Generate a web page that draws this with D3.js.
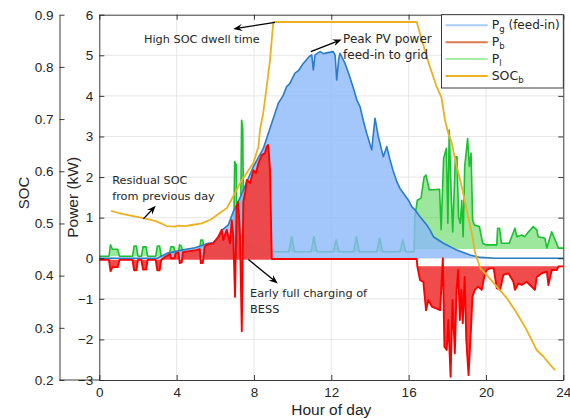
<!DOCTYPE html>
<html lang="en">
<head>
<meta charset="utf-8">
<title>BESS daily power and SOC</title>
<style>
 body { margin: 0; background: #fff; }
 svg text { fill: #262626; }
 .tick text { font-family: "Liberation Sans", Arial, Helvetica, sans-serif; font-size: 13.5px; }
 .axis path, .axis line { stroke: #262626; stroke-width: 0.9; }
 .note { font-family: "DejaVu Sans", sans-serif; }
 .legend text { font-family: "DejaVu Sans", sans-serif; }
</style>
<script src="https://d3js.org/d3.v7.min.js"></script>
</head>
<body>
<svg id="chart" width="570" height="419"></svg>
<script>

// ---- data: [hour of day, value] ----
// grid feed-in power Pg (kW)
const pg = [[0,0],[3.0,0],[3.49,0.12],[4.26,0.2],[4.95,0.26],[5.64,0.37],[5.9,0.38],[6.16,0.53],[6.41,0.72],
  [6.67,0.82],[6.93,1.15],[7.1,1.3],[7.45,1.68],[7.97,2.26],[8.48,2.7],[8.83,3.2],[9.26,3.82],[9.5,4.0],
  [9.69,4.23],[9.85,4.3],[10.12,4.56],[10.3,4.62],[10.55,4.8],[10.86,4.97],[10.99,5.01],[11.07,4.64],
  [11.16,5.01],[11.42,5.09],[11.6,5.04],[11.76,5.06],[12.1,5.09],[12.2,5.0],[12.28,4.39],[12.38,4.9],
  [12.45,5.05],[12.71,4.8],[12.9,4.55],[13.06,4.31],[13.2,4.1],[13.32,3.9],[13.49,3.73],[13.65,3.4],
  [13.83,3.08],[14.09,2.67],[14.26,3.45],[14.43,3.0],[14.69,2.5],[14.87,2.75],[15.04,2.42],[15.2,2.15],
  [15.38,1.9],[15.55,1.72],[15.73,1.6],[15.99,1.43],[16.16,1.27],[16.33,1.19],[16.59,1.02],[16.94,0.82],
  [17.1,0.7],[17.28,0.53],[17.8,0.37],[18.49,0.2],[19.18,0.08],[19.7,0.02],[20.5,0],[24,0]];

// battery power Pb (kW), positive = charging
const pb = [[0,-0.04],[0.5,-0.04],[0.58,-0.32],[0.68,-0.22],[0.95,-0.22],[1.05,-0.04],
  [1.72,-0.04],[1.8,-0.3],[1.92,-0.3],[2.0,-0.04],[2.18,-0.04],[2.26,-0.28],[2.42,-0.28],[2.5,-0.04],
  [2.92,-0.04],[3.0,-0.3],[3.12,-0.3],[3.2,-0.04],[3.5,0.06],[3.66,0.1],[3.72,0.0],[3.88,0.0],
  [3.95,0.12],[4.1,0.14],[4.16,-0.12],[4.26,-0.1],[4.33,0.15],[5.0,0.2],[5.2,0.22],[5.25,-0.12],
  [5.35,-0.12],[5.45,0.28],[5.55,0.33],[5.9,0.37],[6.16,0.53],[6.33,0.7],[6.41,0.45],[6.59,0.7],
  [6.76,0.37],[6.85,0.94],[6.93,0.53],[7.02,-0.95],[7.1,1.27],[7.19,1.39],[7.28,0.53],[7.37,-1.8],
  [7.45,1.39],[7.54,1.6],[7.63,1.93],[7.8,1.85],[7.97,2.17],[8.1,2.1],[8.23,2.34],[8.4,2.54],
  [8.57,2.59],[8.66,2.75],[8.74,2.79],[8.83,2.17],[8.92,-0.02],[16.42,-0.02],[16.45,-0.2],
  [16.59,-0.54],[16.76,-0.58],[16.9,-1.28],[17.02,-1.03],[17.2,-1.19],[17.63,-1.28],[17.77,0],
  [17.85,-2.18],[17.97,-2.26],[18.05,-1.52],[18.17,-2.92],[18.27,-1.03],[18.39,-2.34],[18.48,-0.78],
  [18.56,-0.29],[18.65,-1.52],[18.73,-0.78],[18.8,-1.6],[18.9,-0.46],[18.98,-2.0],[19.1,-2.88],
  [19.24,-1.6],[19.3,-0.95],[19.42,-0.78],[19.6,-0.7],[19.78,-0.78],[19.95,-0.37],[20.04,-0.29],
  [20.2,-0.25],[20.4,-0.25],[20.56,-0.74],[20.73,-0.78],[20.9,-0.41],[21.16,-0.37],[21.42,-0.58],
  [21.5,-0.78],[21.68,-0.62],[21.85,-0.66],[22.1,-0.58],[22.36,-0.7],[22.53,-0.78],[22.63,-0.46],
  [22.88,-0.37],[23.15,-0.33],[23.23,-0.66],[23.4,-0.29],[23.66,-0.29],[23.75,-0.2],[24,-0.2]];

// load power Pl (kW)
const pl = [[0,0.05],[0.5,0.05],[0.58,0.33],[0.68,0.22],[0.95,0.22],[1.05,0.05],
  [1.72,0.05],[1.8,0.3],[1.92,0.3],[2.0,0.05],[2.18,0.05],[2.26,0.28],[2.42,0.28],[2.5,0.05],
  [2.92,0.05],[3.0,0.3],[3.12,0.3],[3.2,0.05],[3.62,0.08],[3.7,0.28],[3.85,0.28],[3.93,0.1],
  [4.08,0.1],[4.15,0.33],[4.25,0.3],[4.32,0.12],[5.18,0.15],[5.25,0.45],[5.35,0.45],[5.42,0.2],
  [6.3,0.25],[6.95,0.3],[7.0,2.38],[7.08,2.3],[7.12,0.6],[7.3,0.5],[7.36,3.4],[7.42,3.2],[7.47,0.6],
  [8.0,0.3],[8.8,0.2],[9.0,0.16],[9.8,0.16],[9.95,0.53],[10.1,0.16],[10.95,0.16],[11.1,0.53],
  [11.25,0.16],[12.1,0.16],[12.25,0.45],[12.4,0.16],[13.15,0.16],[13.3,0.53],[13.45,0.16],
  [14.35,0.16],[14.5,0.5],[14.65,0.16],[15.55,0.16],[15.7,0.45],[15.85,0.16],[16.28,0.16],
  [16.32,1.02],[16.45,1.43],[16.64,1.48],[16.8,2.0],[16.9,2.05],[17.07,1.68],[17.6,1.7],[17.68,0.7],
  [17.81,2.46],[17.95,2.71],[18.03,0.86],[18.1,3.16],[18.2,1.6],[18.28,0.65],[18.42,2.5],[18.5,2.5],
  [18.58,1.02],[18.67,0.86],[18.75,1.43],[18.82,0.53],[18.9,2.26],[19.05,2.95],[19.14,2.26],
  [19.23,2.59],[19.31,0.94],[19.4,0.82],[19.66,0.78],[19.83,0.37],[20.0,0.33],[20.56,0.33],
  [20.6,0.74],[20.7,0.74],[20.8,0.37],[21.2,0.37],[21.5,0.74],[21.6,0.53],[21.85,0.57],[22.0,0.53],
  [22.2,0.65],[22.45,0.78],[22.63,0.7],[22.7,0.53],[23.05,0.49],[23.15,0.25],[23.4,0.65],
  [23.58,0.45],[23.75,0.25],[24,0.25]];

// battery state of charge
const soc = [[0.61,0.524],[1.0,0.52],[1.5,0.516],[2.28,0.51],[2.88,0.505],[3.2,0.5],[3.49,0.495],
  [3.92,0.494],[4.1,0.496],[4.43,0.495],[4.78,0.497],[5.3,0.5],[5.73,0.507],[5.9,0.511],[6.33,0.523],
  [6.59,0.529],[6.93,0.552],[7.28,0.577],[7.63,0.597],[7.97,0.616],[8.23,0.647],[8.31,0.679],
  [8.48,0.712],[8.65,0.76],[8.83,0.813],[9.0,0.886],[16.42,0.886],[16.59,0.863],[17.1,0.8],
  [17.45,0.762],[17.7,0.741],[17.88,0.698],[18.05,0.673],[18.23,0.654],[18.49,0.609],[18.75,0.57],
  [19.0,0.526],[19.27,0.481],[19.44,0.443],[19.7,0.415],[20.04,0.401],[20.56,0.379],[21.08,0.357],
  [21.6,0.328],[22.1,0.296],[22.63,0.257],[22.97,0.245],[23.32,0.229],[23.58,0.219]];

// idle level each fill is drawn from: [from hour, kW]
const pgBase = [[0,0]];
const pbBase = [[0,-0.04],[8.9,-0.02],[16.43,-0.2]];
const plBase = [[0,0.05],[9,0.16],[16.3,0.23]];

// ticks
const hourTicks = [0,4,8,12,16,20,24];
const powerTicks = [-3,-2,-1,0,1,2,3,4,5,6];
const socTicks = [0.2,0.3,0.4,0.5,0.6,0.7,0.8,0.9];

// annotations, placed in (hour, kW)
const notes = [
  {lines:['High SOC dwell time'], at:[2.31,5.30], size:11.3, from:[9.09,5.81], to:[6.93,5.65]},
  {lines:['Peak PV power','feed-in to grid'], at:[12.61,5.30], size:12, from:[10.94,5.09], to:[12.54,5.39]},
  {lines:['Residual SOC','from previous day'], at:[0.67,1.83], size:11.3, from:[2.28,0.97], to:[2.92,1.29]},
  {lines:['Early full charging of','BESS'], at:[7.8,-0.96], size:11.3, from:[7.71,-0.03], to:[9.23,-0.62]}
];

// legend entries
const legendItems = [
  {main:'P', sub:'g', rest:' (feed-in)', color:'#a8ccf4'},
  {main:'P', sub:'b', rest:'', color:'#dc7a52'},
  {main:'P', sub:'l', rest:'', color:'#a6eba6'},
  {main:'SOC', sub:'b', rest:'', color:'#edb120'}
];

//Display specs
const plotL = 99.3, plotR = 563.3, plotT = 14.7, plotB = 380, socX = 59.5;
const svg = d3.select('#chart');

const x = d3.scaleLinear().domain([0,24]).range([plotL,plotR]);
const yP = d3.scaleLinear().domain([-3,6]).range([plotB,plotT]);
const yS = d3.scaleLinear().domain([0.2,0.9]).range([plotB,plotT]);

function stepAt(steps, h) {
  let v = steps[0][1];
  steps.forEach(s => { if (h >= s[0]) v = s[1]; });
  return v;
}

//Grid
const grid = svg.append('g').attr('stroke', '#e4e4e4').attr('stroke-width', 0.9);
grid.selectAll('.gx').data(hourTicks.slice(1,-1)).enter().append('line')
  .attr('x1', d => x(d)).attr('x2', d => x(d)).attr('y1', plotT).attr('y2', plotB);
grid.selectAll('.gy').data(powerTicks.slice(1,-1)).enter().append('line')
  .attr('x1', plotL).attr('x2', plotR).attr('y1', d => yP(d)).attr('y2', d => yP(d));

//Series
const line = d3.line().x(d => x(d[0])).y(d => yP(d[1]));
const area = steps => d3.area().x(d => x(d[0])).y0(d => yP(stepAt(steps, d[0]))).y1(d => yP(d[1]));

function drawSeries(data, steps, fill, fillOpacity, stroke, width) {
  svg.append('path').datum(data).attr('d', area(steps))
     .attr('fill', fill).attr('fill-opacity', fillOpacity);
  svg.append('path').datum(data).attr('d', line)
     .attr('fill', 'none').attr('stroke', stroke).attr('stroke-width', width)
     .attr('stroke-linejoin', 'round');
}

drawSeries(pl, plBase, '#3ccf3c', 0.5, '#19c02f', 1.6);
drawSeries(pg, pgBase, 'rgb(140,185,250)', 0.8, '#2b7cc7', 1.6);
drawSeries(pb, pbBase, '#ef4242', 0.95, '#ff0000', 1.9);

svg.append('path').datum(soc)
   .attr('d', d3.line().x(d => x(d[0])).y(d => yS(d[1])))
   .attr('fill', 'none').attr('stroke', '#edb120').attr('stroke-width', 1.8)
   .attr('stroke-linejoin', 'round');

//Axes
svg.append('g').attr('class', 'axis')
   .attr('transform', 'translate(0,' + plotB + ')')
   .call(d3.axisBottom(x).tickValues(hourTicks).tickSize(-5).tickSizeOuter(0).tickPadding(7.5));
svg.append('g').attr('class', 'axis')
   .attr('transform', 'translate(0,' + plotT + ')')
   .call(d3.axisTop(x).tickValues(hourTicks).tickSize(-5).tickSizeOuter(0).tickFormat(() => ''));
svg.append('g').attr('class', 'axis')
   .attr('transform', 'translate(' + plotL + ',0)')
   .call(d3.axisLeft(yP).tickValues(powerTicks).tickSize(-5).tickSizeOuter(0).tickPadding(6));
svg.append('g').attr('class', 'axis')
   .attr('transform', 'translate(' + plotR + ',0)')
   .call(d3.axisRight(yP).tickValues(powerTicks).tickSize(-5).tickSizeOuter(0).tickFormat(() => ''));
svg.append('g').attr('class', 'axis')
   .attr('transform', 'translate(' + socX + ',0)')
   .call(d3.axisLeft(yS).tickValues(socTicks).tickFormat(d3.format('.1f')).tickSize(-5).tickSizeOuter(0).tickPadding(6));
svg.append('line').attr('x1', socX).attr('x2', plotL).attr('y1', plotB).attr('y2', plotB)
   .attr('stroke', '#262626').attr('stroke-width', 0.9);

//Axis titles
const titleFont = '"Liberation Sans", Arial, Helvetica, sans-serif';
svg.append('text').attr('x', (plotL + plotR) / 2).attr('y', 415).attr('text-anchor', 'middle')
   .style('font-family', titleFont).style('font-size', '15.5px').text('Hour of day');
svg.append('text').attr('transform', 'translate(78,' + ((plotT + plotB) / 2) + ')rotate(-90)')
   .attr('text-anchor', 'middle')
   .style('font-family', titleFont).style('font-size', '15.5px').text('Power (kW)');
svg.append('text').attr('transform', 'translate(29,193)rotate(-90)')
   .attr('text-anchor', 'middle')
   .style('font-family', titleFont).style('font-size', '15px').text('SOC');

//Annotations
notes.forEach(n => {
  const t = svg.append('text').attr('class', 'note').style('font-size', n.size + 'px');
  n.lines.forEach((s, i) => {
    t.append('tspan').attr('x', x(n.at[0])).attr('y', yP(n.at[1]) + i * 16.3).text(s);
  });
  const x1 = x(n.from[0]), y1 = yP(n.from[1]), x2 = x(n.to[0]), y2 = yP(n.to[1]);
  const a = Math.atan2(y2 - y1, x2 - x1), L = 9, w = 3.6;
  const bx = x2 - L * Math.cos(a), by = y2 - L * Math.sin(a);
  svg.append('line').attr('x1', x1).attr('y1', y1)
     .attr('x2', x2 - 5 * Math.cos(a)).attr('y2', y2 - 5 * Math.sin(a))
     .attr('stroke', '#000').attr('stroke-width', 1.3);
  const head = [[x2, y2],
    [bx + w * Math.sin(a), by - w * Math.cos(a)],
    [x2 - 0.65 * L * Math.cos(a), y2 - 0.65 * L * Math.sin(a)],
    [bx - w * Math.sin(a), by + w * Math.cos(a)]];
  svg.append('path').attr('d', 'M' + head.join('L') + 'Z').attr('fill', '#000');
});

//Legend
const lg = svg.append('g').attr('class', 'legend');
lg.append('rect').attr('x', 441.5).attr('y', plotT).attr('width', plotR - 441.5).attr('height', 73.3)
  .attr('fill', '#fff').attr('stroke', '#262626').attr('stroke-width', 0.9);
legendItems.forEach((d, i) => {
  const yy = 25.3 + i * 16.9;
  lg.append('line').attr('x1', 445.5).attr('x2', 487.7).attr('y1', yy).attr('y2', yy)
    .attr('stroke', d.color).attr('stroke-width', 2);
  const t = lg.append('text').attr('x', 491.7).attr('y', yy + 3.5).style('font-size', '12.5px');
  t.append('tspan').text(d.main);
  t.append('tspan').attr('dy', 3.5).style('font-size', '8.5px').text(d.sub);
  if (d.rest) t.append('tspan').attr('dy', -3.5).style('font-size', '12px').text(d.rest);
});

</script>
</body>
</html>
